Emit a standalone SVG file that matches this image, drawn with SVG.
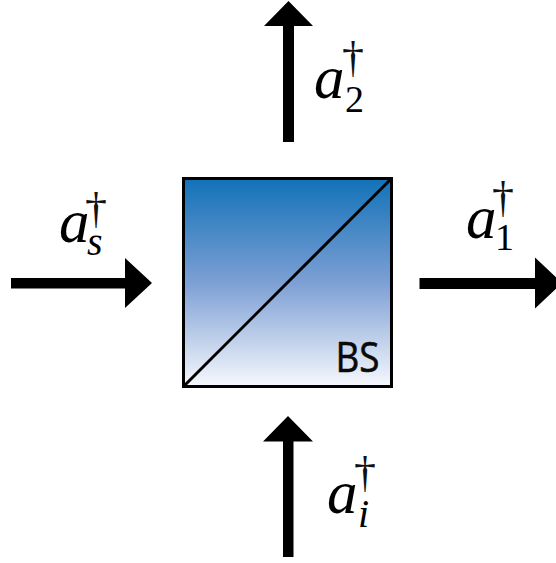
<svg xmlns="http://www.w3.org/2000/svg" width="556" height="563" viewBox="0 0 556 563">
<style>
.m{font-family:"Liberation Serif",serif;font-style:italic;font-size:61px;fill:#000}
.d{font-family:"Liberation Serif",serif;font-size:44px;fill:#111}
.n{font-family:"Liberation Serif",serif;font-size:38px;fill:#000}
.s{font-family:"Liberation Serif",serif;font-style:italic;font-size:40px;fill:#000}
.bs{font-family:"Open Sans",sans-serif;font-size:42px;fill:#0a0a0a;stroke:#0a0a0a;stroke-width:.6}
</style>
<defs>
<linearGradient id="g" x1="0" y1="0" x2="0" y2="1">
<stop offset="0" stop-color="#1272b8"/>
<stop offset="0.5" stop-color="#7d9fd4"/>
<stop offset="1" stop-color="#f6f8fd"/>
</linearGradient>
</defs>
<rect width="556" height="563" fill="#fff"/>
<g id="bs-node">
<rect x="183.500" y="178.500" width="208" height="208" fill="url(#g)" stroke="#000" stroke-width="3"/>
<line x1="183.500" y1="386.500" x2="391.500" y2="178.500" stroke="#000" stroke-width="3"/>
<text class="bs" x="335.500" y="372" textLength="44" lengthAdjust="spacingAndGlyphs">BS</text>
</g>
<g id="connectors" fill="#000">
<path d="M283 142V26H264L288.500 1L313 26H294V142Z"/>
<path d="M11 278H125V258L152 283L125 308V288.500H11Z"/>
<path d="M419.500 278H535V257.500L562 283L535 308.500V289H419.500Z"/>
<path d="M283 557V441.500H263L288 416L313 441.500H293.500V557Z"/>
</g>
<g id="label-a2">
<text class="m" x="314" y="98">a</text><text class="d" x="342" y="72">†</text><text class="n" x="345" y="112">2</text>
</g>
<g id="label-as">
<text class="m" x="59" y="242">a</text><text class="d" x="85" y="223">†</text><text class="s" x="87" y="255">s</text>
</g>
<g id="label-a1">
<text class="m" x="466" y="238">a</text><text class="d" x="492" y="212">†</text><text class="n" x="495" y="250">1</text>
</g>
<g id="label-ai">
<text class="m" x="327" y="513">a</text><text class="d" x="354" y="487">†</text><text class="s" x="358" y="527">i</text>
</g>
</svg>
